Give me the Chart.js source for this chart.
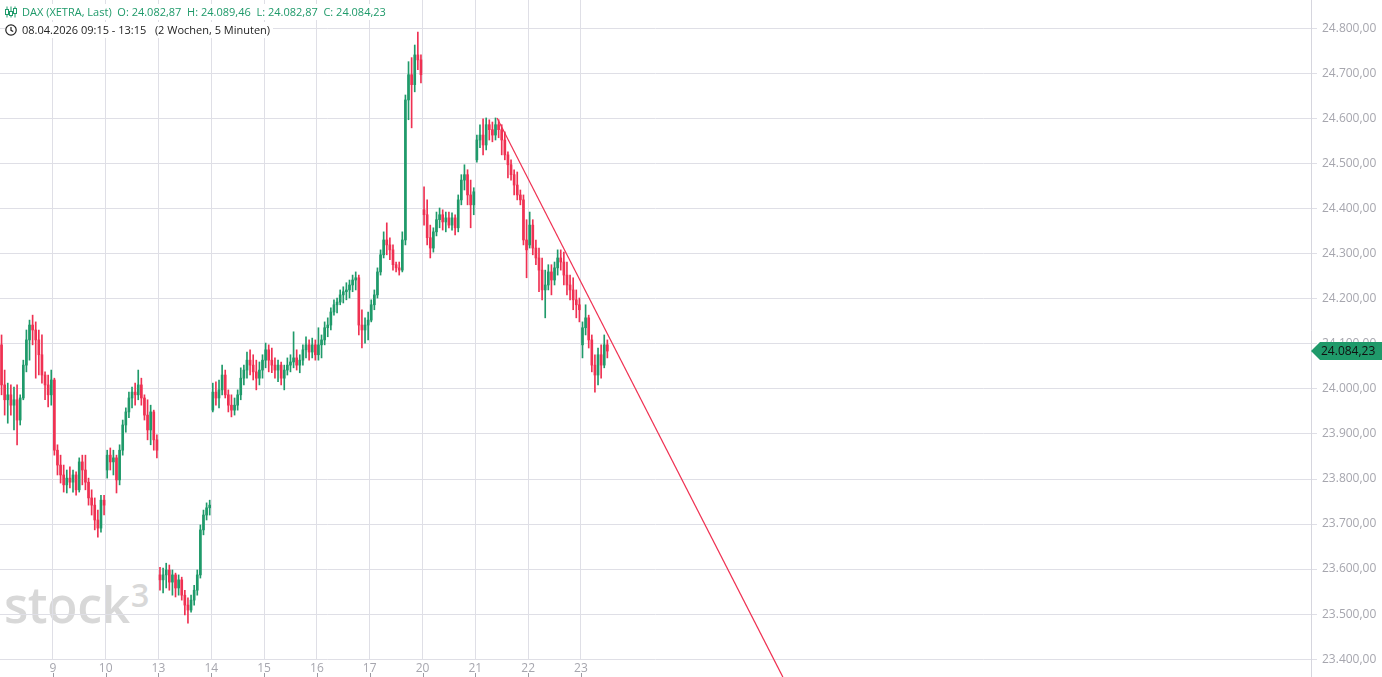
<!DOCTYPE html>
<html>
<head>
<meta charset="utf-8">
<title>DAX (XETRA, Last)</title>
<script src="https://cdn.jsdelivr.net/npm/chart.js@4.4.1/dist/chart.umd.min.js"></script>
<style>
  html, body { margin: 0; padding: 0; background: #fff; overflow: hidden; }
  #wrap { position: relative; width: 1382px; height: 677px; }
  #wm { position: absolute; left: 4px; top: 579px; font: 600 50px "Open Sans", sans-serif; color: #d8d8d8; z-index: 0; line-height: 1; letter-spacing: -0.5px; }
  #wm3 { position: absolute; left: 131px; top: 579px; font: 600 32px "Open Sans", sans-serif; color: #d8d8d8; z-index: 0; line-height: 1; }
  #chart { position: absolute; left: 0; top: 0; z-index: 1; }
  #hdr { position: absolute; left: 5px; top: 4px; z-index: 2; font: 11px "Open Sans", sans-serif; line-height: 16px; }
  #hdr div span.box { background: #fff; padding-right: 3px; display: inline-flex; align-items: center; }
  #hdr svg { margin-right: 5px; }
  .green { color: #1f9a6a; }
  .dark { color: #222; }
</style>
</head>
<body>
<div id="wrap">
  <div id="wm">stock</div>
  <div id="wm3">3</div>
  <canvas id="chart" width="1382" height="677"></canvas>
  <div id="hdr">
    <div><span class="box green"><svg width="12" height="12" viewBox="0 0 12 12"><g stroke="#1f9a6a" fill="none" stroke-width="1"><line x1="2" y1="0.5" x2="2" y2="11.5"/><rect x="0.5" y="3.5" width="3" height="5" fill="#fff"/><line x1="6" y1="0.5" x2="6" y2="11.5"/><rect x="4.5" y="5.5" width="3" height="4" fill="#fff"/><line x1="10" y1="0.5" x2="10" y2="11.5"/><rect x="8.5" y="2.5" width="3" height="5" fill="#fff"/></g></svg>DAX (XETRA, Last)&nbsp;&nbsp;O: 24.082,87&nbsp;&nbsp;H: 24.089,46&nbsp;&nbsp;L: 24.082,87&nbsp;&nbsp;C: 24.084,23</span></div>
    <div><span class="box dark"><svg width="12" height="12" viewBox="0 0 12 12"><circle cx="6" cy="6" r="5.2" stroke="#222" stroke-width="1.2" fill="none"/><path d="M6 3 V6.3 L8.2 7.6" stroke="#222" stroke-width="1.2" fill="none"/></svg>08.04.2026 09:15 - 13:15&nbsp;&nbsp;&nbsp;(2 Wochen, 5 Minuten)</span></div>
  </div>
</div>
<script>
// DAX 2 Wochen, als 30-Minuten-Kerzen (17 Kerzen pro Handelstag)
const dayLabels = ["8", "9", "10", "13", "14", "15", "16", "17", "20", "21", "22", "23"];
const SLOTS = 17;        // Kerzen pro Tag
const TOTAL_SLOTS = 422; // sichtbarer Zeitraum inkl. leerer Zukunft

const opens = [
  24098,24009,23976,23987,23964,23976,23931,23980,24053,24109,24142,24131,24109,24076,24031,24009,23987,
  24020,23864,23831,23809,23787,23802,23793,23809,23776,23838,23820,23793,23758,23742,23709,23691,23753,
  23820,23853,23838,23847,23798,23864,23920,23949,23980,23993,23987,24009,23980,23942,23909,23949,23887,
  23587,23576,23587,23598,23571,23587,23558,23576,23542,23520,23509,23531,23553,23587,23687,23720,23736,
  23953,23993,23980,23998,24031,23987,23964,23953,23964,23987,24024,24042,24064,24053,24038,24024,24042,
  24064,24087,24064,24053,24042,24053,24024,24042,24053,24060,24069,24053,24064,24087,24098,24082,24098,
  24076,24098,24109,24136,24142,24171,24187,24193,24209,24216,24220,24231,24242,24247,24142,24131,24142,
  24153,24187,24209,24260,24298,24331,24320,24309,24276,24269,24264,24331,24642,24698,24676,24742,24731,
  24398,24387,24336,24313,24349,24376,24387,24371,24380,24364,24380,24358,24420,24464,24476,24431,24409,
  24509,24553,24564,24542,24587,24576,24564,24587,24576,24553,24520,24498,24476,24453,24431,24420,24331,
  24320,24364,24313,24291,24264,24220,24231,24260,24242,24269,24291,24282,24253,24231,24220,24198,24187,
  24098,24136,24158,24109,24053,24031,24076,24053,24098
];
const highs = [
  24120,24042,24013,24009,24004,24009,23987,24064,24131,24153,24164,24149,24131,24120,24038,24031,24042,
  24024,23876,23853,23831,23820,23827,23820,23816,23847,23853,23853,23802,23776,23758,23731,23764,23764,
  23864,23869,23864,23853,23876,23931,23958,23993,24004,24013,24042,24024,23987,23976,23964,23953,23898,
  23604,23602,23613,23609,23598,23591,23587,23582,23553,23536,23542,23564,23598,23698,23731,23747,23753,
  24013,24016,24020,24053,24042,23998,23987,23980,23998,24047,24053,24082,24087,24076,24064,24060,24076,
  24102,24098,24091,24069,24064,24060,24053,24069,24076,24127,24087,24076,24098,24116,24109,24113,24109,
  24136,24120,24149,24158,24180,24198,24202,24220,24227,24236,24242,24253,24260,24253,24176,24158,24171,
  24198,24220,24269,24309,24349,24369,24336,24320,24282,24282,24349,24653,24727,24736,24764,24793,24742,
  24449,24420,24364,24358,24393,24402,24398,24393,24393,24391,24387,24431,24476,24498,24487,24464,24447,
  24564,24587,24600,24602,24598,24593,24602,24598,24587,24571,24527,24509,24487,24482,24442,24431,24376,
  24393,24376,24331,24313,24291,24264,24276,24276,24282,24309,24309,24304,24282,24253,24247,24220,24202,
  24149,24187,24164,24120,24076,24091,24098,24120,24109
];
const lows = [
  23987,23942,23924,23942,23909,23876,23920,23976,24038,24064,24098,24024,24031,24013,23976,23960,23964,
  23853,23809,23791,23771,23769,23780,23771,23764,23771,23787,23776,23742,23720,23687,23671,23682,23720,
  23802,23820,23809,23769,23787,23853,23904,23936,23958,23964,23976,23964,23931,23887,23876,23864,23847,
  23553,23547,23558,23553,23542,23538,23542,23531,23498,23480,23504,23520,23542,23580,23676,23709,23720,
  23949,23964,23958,23987,23980,23949,23938,23942,23953,23976,24009,24024,24031,24020,23998,24009,24024,
  24047,24038,24036,24024,24016,24009,23998,24031,24038,24047,24042,24036,24053,24069,24064,24069,24064,
  24064,24069,24098,24116,24131,24164,24169,24187,24191,24198,24202,24216,24220,24120,24091,24102,24109,
  24149,24176,24202,24253,24291,24298,24287,24264,24260,24253,24260,24320,24598,24580,24660,24709,24680,
  24364,24320,24291,24304,24340,24358,24353,24349,24358,24353,24342,24349,24409,24442,24409,24358,24387,
  24504,24536,24520,24531,24553,24549,24553,24558,24520,24509,24469,24464,24431,24420,24409,24320,24247,
  24313,24298,24276,24216,24198,24158,24220,24209,24231,24253,24264,24231,24209,24198,24176,24158,24149,
  24069,24120,24091,24038,23993,24009,24024,24047,24069
];
const closes = [
  24009,23976,23987,23964,23976,23931,23980,24053,24109,24142,24131,24109,24076,24031,24009,23987,24020,
  23864,23831,23809,23787,23802,23793,23809,23776,23838,23820,23793,23758,23742,23709,23691,23753,23742,
  23853,23838,23847,23798,23864,23920,23949,23980,23993,23987,24009,23980,23942,23909,23949,23887,23864,
  23576,23587,23598,23571,23587,23558,23576,23542,23520,23509,23531,23553,23587,23687,23720,23736,23742,
  23993,23980,23998,24031,23987,23964,23953,23964,23987,24024,24042,24064,24053,24038,24024,24042,24064,
  24087,24064,24053,24042,24053,24024,24042,24053,24060,24069,24053,24064,24087,24098,24082,24098,24076,
  24098,24109,24136,24142,24171,24187,24193,24209,24216,24220,24231,24242,24247,24142,24131,24142,24153,
  24187,24209,24260,24298,24331,24320,24309,24276,24269,24264,24331,24642,24698,24676,24742,24731,24698,
  24387,24336,24313,24349,24376,24387,24371,24380,24364,24380,24358,24420,24464,24476,24431,24409,24438,
  24553,24564,24542,24587,24576,24564,24587,24576,24553,24520,24498,24476,24453,24431,24420,24331,24309,
  24364,24313,24291,24264,24220,24231,24260,24242,24269,24291,24282,24253,24231,24220,24198,24187,24176,
  24136,24158,24109,24053,24031,24076,24053,24098,24084.23
];

// Trendlinie vom Hoch am 21. abwärts (Slot, Kurs)
const trendSlots = [160, 252];
const trendValues = [24602, 23360];

const lastPrice = 24084.23;
const yTicks = [23400, 23500, 23600, 23700, 23800, 23900, 24000, 24100, 24200, 24300, 24400, 24500, 24600, 24700, 24800];

const UP = "#1f9a6a";
const DOWN = "#ef3152";
const GRID = "#dfdfe6";

function fmt(v) {
  const p = Number(v).toFixed(2).split(".");
  return p[0].replace(/\B(?=(\d{3})+(?!\d))/g, ".") + "," + p[1];
}

const xs = closes.map((_, i) => Math.floor(i / SLOTS) * SLOTS + (i % SLOTS) + 0.5);
const colors = closes.map((c, i) => (c >= opens[i] ? UP : DOWN));
const dayStarts = dayLabels.slice(1).map((_, k) => (k + 1) * SLOTS);

const extras = {
  id: "extras",
  afterDraw(chart) {
    const ctx = chart.ctx;
    const a = chart.chartArea;
    ctx.save();
    // y-Achsenlinie bis zum unteren Rand
    ctx.strokeStyle = "#d6d6de";
    ctx.lineWidth = 1;
    ctx.beginPath();
    ctx.moveTo(a.right + 0.5, a.bottom);
    ctx.lineTo(a.right + 0.5, chart.height);
    ctx.stroke();
    // kleine Striche unter den Tageslabels
    ctx.strokeStyle = "#9a9aa2";
    dayStarts.forEach((s) => {
      const px = Math.round(chart.scales.x.getPixelForValue(s)) + 0.5;
      ctx.beginPath();
      ctx.moveTo(px, chart.height - 4);
      ctx.lineTo(px, chart.height);
      ctx.stroke();
    });
    // Kursmarke rechts
    const y = Math.round(chart.scales.y.getPixelForValue(lastPrice));
    const x0 = a.right;
    ctx.fillStyle = UP;
    ctx.beginPath();
    ctx.moveTo(x0, y);
    ctx.lineTo(x0 + 9, y - 9);
    ctx.lineTo(chart.width, y - 9);
    ctx.lineTo(chart.width, y + 9);
    ctx.lineTo(x0 + 9, y + 9);
    ctx.closePath();
    ctx.fill();
    ctx.fillStyle = "#111";
    ctx.font = '12px "Open Sans"';
    ctx.textBaseline = "middle";
    ctx.textAlign = "left";
    ctx.fillText(fmt(lastPrice), x0 + 10, y + 1);
    ctx.restore();
  }
};

new Chart(document.getElementById("chart"), {
  type: "bar",
  data: {
    datasets: [
      {
        label: "Docht",
        order: 3,
        data: xs.map((x, i) => ({ x: x, y: [lows[i], highs[i]] })),
        backgroundColor: colors,
        barThickness: 1,
        grouped: false,
        borderWidth: 0
      },
      {
        label: "Körper",
        order: 2,
        data: xs.map((x, i) => ({ x: x, y: [opens[i], closes[i]] })),
        backgroundColor: colors,
        barThickness: 2,
        minBarLength: 1,
        grouped: false,
        borderWidth: 0
      },
      {
        type: "line",
        label: "Trend",
        order: 1,
        data: trendSlots.map((s, i) => ({ x: s, y: trendValues[i] })),
        borderColor: DOWN,
        borderWidth: 1.2,
        pointRadius: 0,
        clip: false
      }
    ]
  },
  options: {
    responsive: false,
    animation: false,
    layout: { padding: 0 },
    plugins: { legend: { display: false }, tooltip: { enabled: false } },
    scales: {
      x: {
        type: "linear",
        offset: false,
        min: 0,
        max: TOTAL_SLOTS,
        afterBuildTicks: (s) => { s.ticks = dayStarts.map((v) => ({ value: v })); },
        afterFit: (s) => { s.height = 17; s.paddingLeft = 0; s.paddingRight = 0; },
        ticks: {
          autoSkip: false,
          maxRotation: 0,
          padding: 1,
          color: "#a6a6ae",
          font: { family: "Open Sans", size: 12 },
          callback: (v) => dayLabels[Math.round(v / SLOTS)]
        },
        grid: { color: GRID, drawTicks: false, offset: false },
        border: { display: false }
      },
      y: {
        position: "right",
        min: 23398,
        max: 24864,
        afterBuildTicks: (s) => { s.ticks = yTicks.map((v) => ({ value: v })); },
        afterFit: (s) => { s.width = 71; s.paddingTop = 0; s.paddingBottom = 0; },
        ticks: {
          padding: 5,
          color: "#a6a6ae",
          font: { family: "Open Sans", size: 12 },
          callback: (v) => fmt(v)
        },
        grid: { color: GRID, tickLength: 6 },
        border: { color: "#d6d6de" }
      }
    }
  },
  plugins: [extras]
});
</script>
</body>
</html>
